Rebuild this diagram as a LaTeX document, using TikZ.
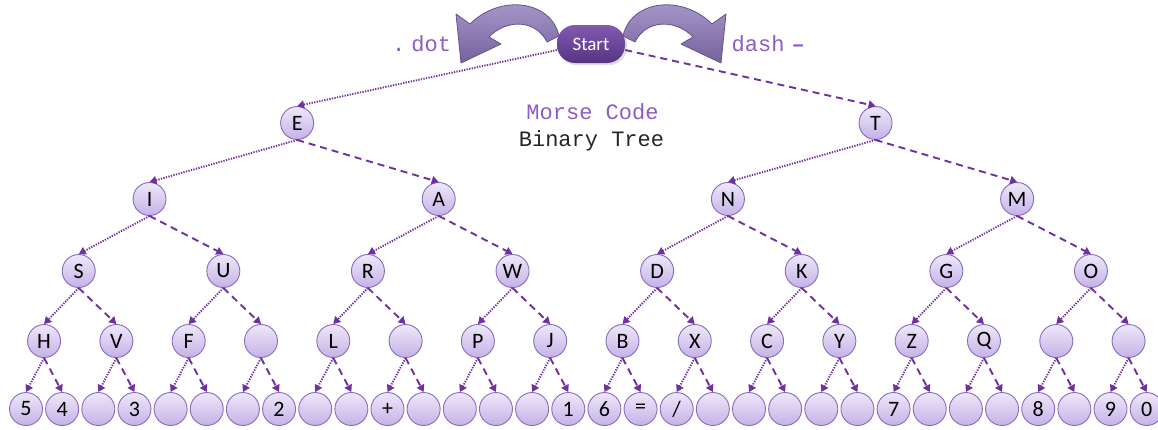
\documentclass[tikz,border=0pt]{standalone}
\usepackage{fontspec}
\usetikzlibrary{arrows.meta,shadows}
\newfontfamily\calib{Carlito}
\newfontfamily\mono{Liberation Mono}

\definecolor{linkpurple}{RGB}{112,48,160}
\definecolor{bubtop}{RGB}{238,232,250}
\definecolor{bubbot}{RGB}{196,178,230}
\definecolor{bubedge}{RGB}{138,106,188}
\definecolor{labelpurple}{RGB}{140,92,198}
\definecolor{starttop}{RGB}{130,90,178}
\definecolor{startbot}{RGB}{86,52,130}
\definecolor{bendtop}{RGB}{172,158,208}
\definecolor{bendbot}{RGB}{116,98,156}
\definecolor{bendedge}{RGB}{100,82,140}

\tikzset{
  bubble/.style={circle, minimum size=33pt, inner sep=0pt, draw=bubedge,
    line width=0.9pt, top color=bubtop, bottom color=bubbot,
    font=\calib\fontsize{22}{22}\selectfont},
  startbox/.style={rectangle, rounded corners=18pt, minimum width=68pt,
    minimum height=38pt, inner sep=0pt, top color=starttop,
    bottom color=startbot, text=white, drop shadow={opacity=0.25},
    font=\calib\fontsize{19}{19}\selectfont},
  dotlink/.style={draw=linkpurple, line width=1.9pt,
    dash pattern=on 1.3pt off 1.3pt, -{Triangle[length=7pt,width=8pt]}},
  dashlink/.style={draw=linkpurple, line width=1.9pt,
    dash pattern=on 7pt off 5pt, -{Triangle[length=7pt,width=8pt]}},
  codeword/.style={inner sep=0pt, anchor=base west, text=labelpurple,
    font=\mono\fontsize{22}{22}\selectfont},
  bendarrow/.style={top color=bendtop, bottom color=bendbot,
    draw=bendedge, line width=0.8pt, line join=round},
}

\begin{document}
\begin{tikzpicture}[x=1pt,y=-1pt]
\path[use as bounding box] (0,0) rectangle (1158,429);

% curved arrows beside the root
\path[bendarrow] (559,36) .. controls (551,0) and (500,-6) .. (470,24)
  -- (456,14) -- (461,63) -- (501,44) -- (489,37)
  .. controls (505,20) and (535,18) .. (547,42) -- cycle;
\begin{scope}[shift={(1182,0)},xscale=-1]
\path[bendarrow] (559,36) .. controls (551,0) and (500,-6) .. (470,24)
  -- (456,14) -- (461,63) -- (501,44) -- (489,37)
  .. controls (505,20) and (535,18) .. (547,42) -- cycle;
\end{scope}

% root and labels
\node[startbox] (start) at (591,44) {Start};
\node[codeword] (dotlabel) at (392,51.5) {.\kern6pt dot};
\node[codeword] (dashlabel) at (731.5,51.5) {dash\kern7pt{\bfseries –}};
\node[inner sep=0pt, anchor=base, text=labelpurple,
  font=\mono\fontsize{22}{22}\selectfont] (title1) at (592.5,119.5) {Morse Code};
\node[inner sep=0pt, anchor=base, text=black!85,
  font=\mono\fontsize{22}{22}\selectfont] (title2) at (591.5,146.5) {Binary Tree};

% tree levels
\foreach \lab [count=\i from 0] in {E,T}{
  \pgfmathsetmacro\xx{26+36.15*(16*\i+7.5)}
  \node[bubble] (r1-\i) at (\xx,123) {\lab};
}
\foreach \lab [count=\i from 0] in {I,A,N,M}{
  \pgfmathsetmacro\xx{26+36.15*(8*\i+3.5)-3}
  \node[bubble] (r2-\i) at (\xx,199) {\lab};
}
\foreach \lab [count=\i from 0] in {S,U,R,W,D,K,G,O}{
  \pgfmathsetmacro\xx{26+36.15*(4*\i+1.5)-1.5}
  \node[bubble] (r3-\i) at (\xx,271) {\lab};
}
\foreach \lab [count=\i from 0] in {H,V,F,{},L,{},P,J,B,X,C,Y,Z,Q,{},{}}{
  \pgfmathsetmacro\xx{26+36.15*(2*\i+0.5)}
  \node[bubble] (r4-\i) at (\xx,341) {\lab};
}
\foreach \lab [count=\i from 0] in {5,4,{},3,{},{},{},2,{},{},+,{},{},{},{},1,
    6,=,/,{},{},{},{},{},7,{},{},{},8,{},9,0}{
  \pgfmathsetmacro\xx{26+36.15*\i}
  \node[bubble] (r5-\i) at (\xx,409) {\lab};
}

% links: dot to the left child, dash to the right child
\draw[dotlink] (start.190) -- (r1-0.north);
\draw[dashlink] (start.-10) -- (r1-1.north);
\foreach \p/\c/\n in {r1/r2/1, r2/r3/3, r3/r4/7, r4/r5/15}{
  \foreach \k in {0,...,\n}{
    \pgfmathtruncatemacro\lc{2*\k}
    \pgfmathtruncatemacro\rc{2*\k+1}
    \draw[dotlink] (\p-\k.south) -- (\c-\lc.north);
    \draw[dashlink] (\p-\k.south) -- (\c-\rc.north);
  }
}
\end{tikzpicture}
\end{document}
